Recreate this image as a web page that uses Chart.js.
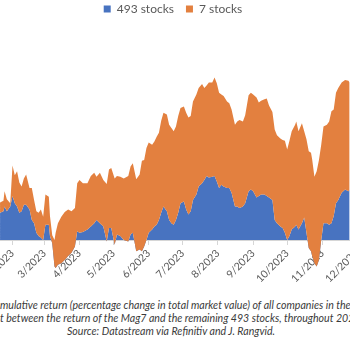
<!DOCTYPE html>
<html>
<head>
<meta charset="utf-8">
<script src="https://cdn.jsdelivr.net/npm/chart.js@4/dist/chart.umd.min.js"></script>
<style>
    html, body {
        margin: 0;
        padding: 0;
        width: 350px;
        height: 350px;
        overflow: hidden;
        background: #ffffff;
    }
    #wrap {
        position: absolute;
        left: -28px;
        top: 0;
        width: 402px;
        height: 285px;
    }
    .caption {
        position: absolute;
        font-family: 'Lato', sans-serif;
        font-style: italic;
        font-size: 10.6px;
        color: #3a3a3a;
        white-space: nowrap;
        line-height: 13px;
    }
</style>
</head>
<body>
<div id="wrap"><canvas id="mag7Chart"></canvas></div>
<div class="caption" style="left:0; top:299px;">mulative return (percentage change in total market value) of all companies in the</div>
<div class="caption" style="left:0; top:312px;">t between the return of the Mag7 and the remaining 493 stocks, throughout 202</div>
<div class="caption" style="left:0; top:325px; width:342px; text-align:center;">Source: Datastream via Refinitiv and J. Rangvid.</div>
<script>
// Day of year (2023) for each reading
const days = [21, 24, 25, 27, 30, 32, 34, 36, 38, 40, 42, 44, 47, 49, 51, 53, 55, 57, 59, 61,
    64, 65, 67, 69, 70, 72, 75, 78, 81, 84, 87, 89, 91, 94, 98, 101, 104, 106, 109, 112,
    115, 117, 119, 122, 124, 127, 130, 134, 136, 138, 141, 144, 146, 148, 150, 152, 155, 157, 159, 161,
    163, 165, 168, 170, 172, 174, 176, 178, 180, 183, 185, 187, 189, 191, 194, 196, 199, 201, 203, 205,
    208, 210, 212, 214, 216, 218, 221, 223, 225, 228, 230, 232, 235, 237, 240, 242, 244, 247, 249, 251,
    254, 256, 258, 261, 263, 265, 268, 270, 272, 274, 276, 278, 281, 282, 284, 287, 289, 291, 293, 295,
    296, 298, 300, 302, 304, 306, 309, 311, 313, 315, 317, 319, 322, 325, 328, 329];

// Contribution of the 493 other stocks (%)
const stocks493 = [3.4, 3.6, 4.2, 3.6, 4.2, 5.5, 4.6, 4.2, 3.4, 3.6, 4.4, 4.4, 3.8, 2.5, 2.1, 0.9, 0.5, 0.3, 0.0, 1.9,
    1.9, 0.5, -0.4, -3.3, -3.5, -3.1, -2.9, -2.5, -2.0, -1.6, -0.8, 1.1, 0.9, 1.0, 1.3, 1.7, 2.1, 2.5, 2.1, 1.7,
    -0.2, 1.5, 1.5, -0.6, 0.7, 0.5, 0.0, -0.2, 0.7, 0.9, -1.4, -1.2, -1.4, -0.8, 0.0, 0.9, 1.3, 1.7, 1.9, 2.5,
    3.4, 4.2, 3.6, 2.5, 2.1, 1.9, 2.5, 3.4, 4.6, 4.8, 3.8, 3.2, 3.6, 5.0, 5.7, 6.7, 7.1, 7.5, 8.0, 7.8,
    7.9, 8.0, 7.3, 6.5, 6.9, 6.7, 6.5, 6.5, 5.9, 4.2, 4.2, 4.0, 4.2, 4.6, 6.1, 6.3, 6.1, 5.3, 5.5, 5.7,
    5.7, 5.5, 5.3, 5.0, 2.5, 2.1, 1.7, 1.5, 0.9, 0.0, 0.5, 1.3, 1.7, 1.9, 1.3, 2.1, 2.8, 0.9, -1.0, -1.4,
    -2.0, -2.9, -3.3, -2.5, 0.0, 2.1, 2.1, 1.9, 2.1, 3.0, 4.6, 5.0, 5.9, 6.3, 6.1, 6.3];

// Contribution of the Magnificent 7 (%)
const stocks7 = [1.3, 1.3, 1.9, 1.5, 0.4, 3.8, 3.5, 4.4, 3.8, 3.1, 3.3, 3.8, 2.7, 4.0, 2.9, 2.7, 2.9, 3.5, 2.9, 3.8,
    3.5, 2.5, 1.0, 3.3, 4.4, 5.2, 5.8, 6.0, 5.8, 5.2, 4.8, 6.0, 6.6, 6.1, 5.8, 6.3, 6.3, 5.4, 6.3, 5.8,
    7.2, 7.3, 7.5, 8.3, 7.3, 7.4, 7.7, 8.2, 8.5, 8.7, 9.0, 9.4, 11.3, 10.8, 11.5, 11.3, 10.6, 10.6, 11.0, 10.9,
    11.5, 11.7, 12.1, 11.9, 11.9, 11.7, 11.7, 12.1, 11.9, 11.9, 12.1, 12.1, 11.9, 12.3, 12.5, 12.3, 12.4, 11.5, 11.3, 11.9,
    11.8, 12.3, 12.3, 11.9, 11.3, 11.3, 10.8, 10.6, 10.4, 10.2, 10.6, 11.0, 10.6, 11.0, 12.0, 12.1, 12.1, 12.5, 11.7, 11.7,
    11.9, 12.2, 11.5, 11.0, 11.3, 11.0, 11.0, 11.0, 11.5, 11.3, 11.9, 12.3, 12.7, 12.9, 12.3, 12.5, 10.8, 11.7, 12.1, 12.3,
    12.1, 10.8, 11.9, 12.5, 11.9, 12.1, 12.3, 12.9, 14.0, 13.3, 13.8, 14.0, 13.8, 13.7, 13.8, 13.4];

// Month start ticks
const monthStarts = [32, 60, 91, 121, 152, 182, 213, 244, 274, 305, 335];
const monthLabels = ['2/2023', '3/2023', '4/2023', '5/2023', '6/2023', '7/2023',
    '8/2023', '9/2023', '10/2023', '11/2023', '12/2023'];

const seriesNames = ['493 stocks', '7 stocks'];
const seriesColors = ['#4873C0', '#E3803F'];

// Excel-style stacking: the 7-stock band sits on top of the 493-stock value, signs included
const bluePoints = days.map((d, i) => ({ x: d, y: stocks493[i] }));
const topPoints = days.map((d, i) => ({ x: d, y: stocks493[i] + stocks7[i] }));

const ctx = document.getElementById('mag7Chart');
new Chart(ctx.getContext('2d'), {
    type: 'line',
    data: {
        datasets: [{
            label: seriesNames[0],
            data: bluePoints,
            backgroundColor: seriesColors[0],
            borderColor: seriesColors[0],
            borderWidth: 0,
            pointRadius: 0,
            fill: 'origin',
            order: 1
        }, {
            label: seriesNames[1],
            data: topPoints,
            backgroundColor: seriesColors[1],
            borderColor: seriesColors[1],
            borderWidth: 0,
            pointRadius: 0,
            fill: '-1',
            order: 0
        }]
    },
    options: {
        responsive: true,
        maintainAspectRatio: false,
        animation: false,
        layout: {
            padding: { top: -9, left: 0, right: 0, bottom: 0 }
        },
        plugins: {
            legend: {
                display: true,
                position: 'top',
                reverse: true,
                labels: {
                    boxWidth: 7,
                    boxHeight: 7,
                    padding: 12,
                    color: '#595959',
                    font: { family: 'Lato', size: 12 }
                }
            },
            tooltip: { enabled: false }
        },
        scales: {
            x: {
                type: 'linear',
                min: -3.7,
                max: 350.5,
                position: { y: 0 },
                z: 1,
                afterBuildTicks: function(scale) {
                    scale.ticks = monthStarts.map(v => ({ value: v }));
                },
                afterFit: function(scale) {
                    scale.paddingLeft = 0;
                    scale.paddingRight = 0;
                },
                ticks: {
                    autoSkip: false,
                    minRotation: 45,
                    maxRotation: 45,
                    padding: 3,
                    color: '#595959',
                    font: { family: 'Lato', size: 10.5 },
                    callback: function(value) {
                        return monthLabels[monthStarts.indexOf(value)];
                    }
                },
                grid: {
                    drawOnChartArea: false,
                    drawTicks: true,
                    tickLength: 4,
                    color: '#d6d6d6'
                },
                border: { color: '#d6d6d6', width: 1 }
            },
            y: {
                display: false,
                min: -5.625,
                max: 26.875
            }
        }
    }
});
</script>
</body>
</html>
